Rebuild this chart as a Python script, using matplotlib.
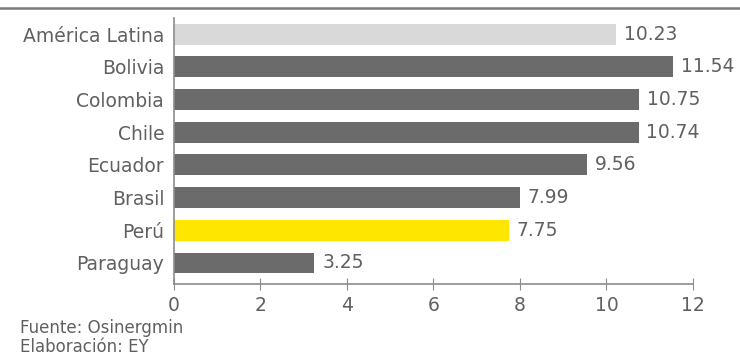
import matplotlib.pyplot as plt
from matplotlib.lines import Line2D

# --- Data ---
paises = ['América Latina', 'Bolivia', 'Colombia', 'Chile', 'Ecuador',
          'Brasil', 'Perú', 'Paraguay']
valores = [10.23, 11.54, 10.75, 10.74, 9.56, 7.99, 7.75, 3.25]
colores = ['#d9d9d9', '#6b6b6b', '#6b6b6b', '#6b6b6b', '#6b6b6b',
           '#6b6b6b', '#ffe600', '#6b6b6b']
xticks = [0, 2, 4, 6, 8, 10, 12]

txt = '#606060'
axis_c = '#8c8c8c'
plt.rcParams['font.family'] = ['DejaVu Sans']
fs = 13.5

fig = plt.figure(figsize=(7.4, 3.58), dpi=100)
ax = fig.add_axes([0.235, 0.207, 0.7015, 0.743])

ypos = list(range(len(paises)))
ax.barh(ypos, valores, height=0.64, color=colores)
for y, v in zip(ypos, valores):
    ax.text(v + 0.18, y, f'{v:.2f}', va='center', ha='left',
            fontsize=fs, color=txt)

ax.set_ylim(7.64, -0.5)
ax.set_xlim(0, 12)
ax.set_yticks(ypos)
ax.set_yticklabels(paises, fontsize=fs, color=txt)
ax.set_xticks(xticks)
ax.set_xticklabels([str(t) for t in xticks], fontsize=fs, color=txt)
ax.tick_params(axis='y', length=0, pad=7)
ax.tick_params(axis='x', direction='inout', length=8, color=axis_c, pad=5)

for s in ['top', 'right']:
    ax.spines[s].set_visible(False)
for s in ['left', 'bottom']:
    ax.spines[s].set_color(axis_c)
    ax.spines[s].set_linewidth(1.2)

# top rule
fig.add_artist(Line2D([0, 1], [0.977, 0.977], transform=fig.transFigure,
                      color='#7a7a7a', linewidth=1.8))

fig.text(0.027, 0.085, 'Fuente: Osinergmin', fontsize=12, color=txt, va='center')
fig.text(0.027, 0.006, 'Elaboración: EY', fontsize=12, color=txt, va='bottom')

fig.savefig('out.png', dpi=100)
